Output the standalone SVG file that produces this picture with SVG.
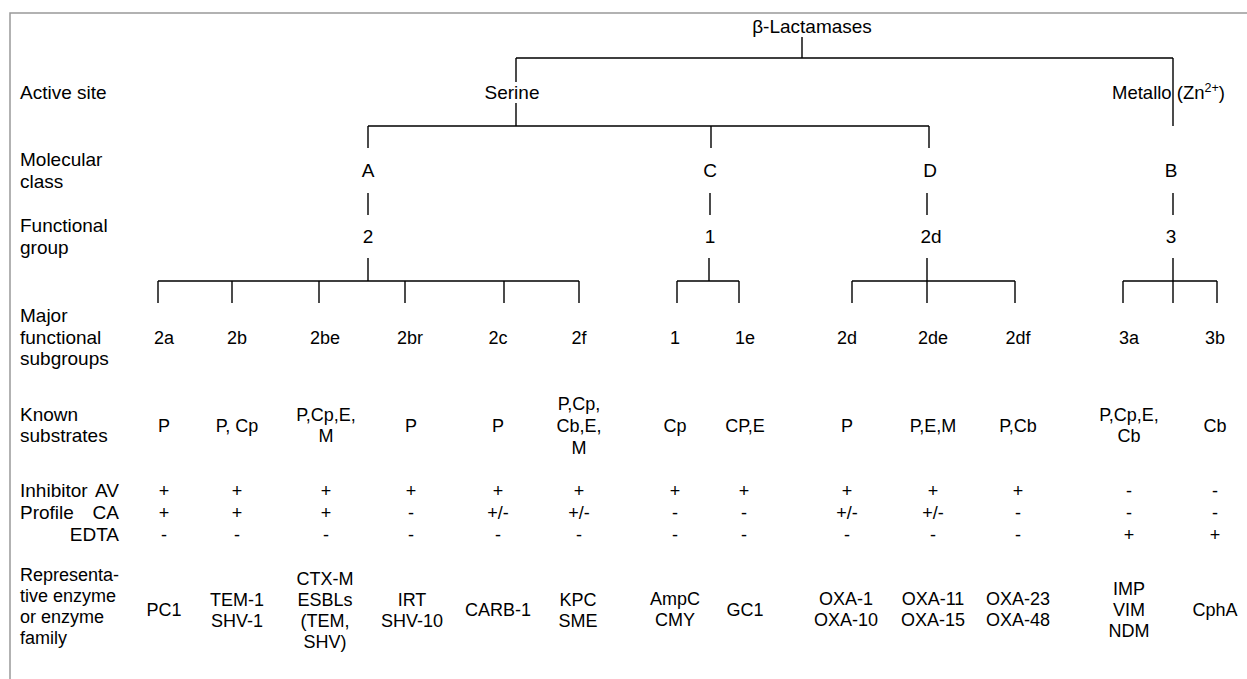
<svg xmlns="http://www.w3.org/2000/svg" width="1247" height="679" viewBox="0 0 1247 679">
<style>
text{font-family:"Liberation Sans",Arial,sans-serif;font-size:18px;fill:#000}
.lb text,.nd{font-size:19px}
.c{text-anchor:middle}
.r{text-anchor:end}
.ln{stroke:#000;stroke-width:1.4;fill:none}
.fr{stroke:#999;stroke-width:1.5;fill:none}
</style>
<rect width="1247" height="679" fill="#fff"/>
<path class="fr" d="M10,679 V13 H1247"/>
<g id="row-labels" class="lb">
<text x="20" y="99">Active site</text>
<text x="20" y="166">Molecular</text><text x="20" y="188">class</text>
<text x="20" y="232">Functional</text><text x="20" y="254">group</text>
<text x="20" y="322">Major</text><text x="20" y="344">functional</text><text x="20" y="365">subgroups</text>
<text x="20" y="421">Known</text><text x="20" y="442">substrates</text>
<text x="20" y="497">Inhibitor</text><text x="20" y="519">Profile</text>
<text class="r" x="119" y="497">AV</text><text class="r" x="119" y="519">CA</text><text class="r" x="119" y="541">EDTA</text>
<text x="20" y="581" style="font-size:18px">Representa-</text><text x="20" y="602" style="font-size:18px">tive enzyme</text><text x="20" y="623" style="font-size:18px">or enzyme</text><text x="20" y="644" style="font-size:18px">family</text>
</g>
<g id="connectors">
<path class="ln" d="M802,37 V58 M516,58 H1173 M516,58 V82 M516,103 V126 M1173,58 V126"/>
<path class="ln" d="M368,126 H929 M368,126 V148 M711,126 V148 M929,126 V148"/>
<path class="ln" d="M368,193 V215 M710,193 V215 M927,193 V215 M1173,193 V215"/>
<path class="ln" d="M368,258 V281 M709,258 V281 M927,258 V281 M1173,258 V281"/>
<path class="ln" d="M158,281 H579 M158,281 V303 M232,281 V303 M319,281 V303 M405,281 V303 M504,281 V303 M579,281 V303"/>
<path class="ln" d="M677,281 H739 M677,281 V303 M739,281 V303"/>
<path class="ln" d="M852,281 H1015 M852,281 V303 M927,281 V303 M1015,281 V303"/>
<path class="ln" d="M1123,281 H1217 M1123,281 V303 M1173,281 V303 M1217,281 V303"/>
</g>
<g id="node-root"><text class="c nd" x="812" y="33">β-Lactamases</text></g>
<g id="node-serine"><text class="c nd" x="512" y="99">Serine</text></g>
<g id="node-metallo"><text x="1112" y="99" style="font-size:18.5px">Metallo (Zn<tspan font-size="12.5" dy="-7">2+</tspan><tspan dy="7">)</tspan></text></g>
<g id="node-A"><text class="c nd" x="368" y="177">A</text></g>
<g id="node-C"><text class="c nd" x="710" y="177">C</text></g>
<g id="node-D"><text class="c nd" x="930" y="177">D</text></g>
<g id="node-B"><text class="c nd" x="1171" y="177">B</text></g>
<g id="node-g2"><text class="c nd" x="368" y="243">2</text></g>
<g id="node-g1"><text class="c nd" x="710" y="243">1</text></g>
<g id="node-g2d"><text class="c nd" x="931" y="243">2d</text></g>
<g id="node-g3"><text class="c nd" x="1171" y="243">3</text></g>
<g id="col-2a">
<text class="c" x="164" y="344">2a</text><text class="c" x="164" y="432">P</text>
<text class="c" x="164" y="497">+</text><text class="c" x="164" y="519">+</text><text class="c" x="164" y="541">-</text>
<text class="c" x="164" y="616">PC1</text>
</g>
<g id="col-2b">
<text class="c" x="237" y="344">2b</text><text class="c" x="237" y="432">P, Cp</text>
<text class="c" x="237" y="497">+</text><text class="c" x="237" y="519">+</text><text class="c" x="237" y="541">-</text>
<text class="c" x="237" y="606">TEM-1</text><text class="c" x="237" y="627">SHV-1</text>
</g>
<g id="col-2be">
<text class="c" x="325" y="344">2be</text><text class="c" x="326" y="421">P,Cp,E,</text><text class="c" x="326" y="442">M</text>
<text class="c" x="326" y="497">+</text><text class="c" x="326" y="519">+</text><text class="c" x="326" y="541">-</text>
<text class="c" x="325" y="585">CTX-M</text><text class="c" x="325" y="606">ESBLs</text><text class="c" x="325" y="627">(TEM,</text><text class="c" x="325" y="648">SHV)</text>
</g>
<g id="col-2br">
<text class="c" x="410" y="344">2br</text><text class="c" x="411" y="432">P</text>
<text class="c" x="411" y="497">+</text><text class="c" x="411" y="519">-</text><text class="c" x="411" y="541">-</text>
<text class="c" x="412" y="606">IRT</text><text class="c" x="412" y="627">SHV-10</text>
</g>
<g id="col-2c">
<text class="c" x="498" y="344">2c</text><text class="c" x="498" y="432">P</text>
<text class="c" x="498" y="497">+</text><text class="c" x="498" y="519">+/-</text><text class="c" x="498" y="541">-</text>
<text class="c" x="498" y="616">CARB-1</text>
</g>
<g id="col-2f">
<text class="c" x="579" y="344">2f</text><text class="c" x="579" y="410">P,Cp,</text><text class="c" x="579" y="432">Cb,E,</text><text class="c" x="579" y="454">M</text>
<text class="c" x="579" y="497">+</text><text class="c" x="579" y="519">+/-</text><text class="c" x="579" y="541">-</text>
<text class="c" x="578" y="606">KPC</text><text class="c" x="578" y="627">SME</text>
</g>
<g id="col-1">
<text class="c" x="675" y="344">1</text><text class="c" x="675" y="432">Cp</text>
<text class="c" x="675" y="497">+</text><text class="c" x="675" y="519">-</text><text class="c" x="675" y="541">-</text>
<text class="c" x="675" y="605">AmpC</text><text class="c" x="675" y="626">CMY</text>
</g>
<g id="col-1e">
<text class="c" x="745" y="344">1e</text><text class="c" x="745" y="432">CP,E</text>
<text class="c" x="744" y="497">+</text><text class="c" x="744" y="519">-</text><text class="c" x="744" y="541">-</text>
<text class="c" x="745" y="616">GC1</text>
</g>
<g id="col-2d">
<text class="c" x="847" y="344">2d</text><text class="c" x="847" y="432">P</text>
<text class="c" x="847" y="497">+</text><text class="c" x="847" y="519">+/-</text><text class="c" x="847" y="541">-</text>
<text class="c" x="846" y="605">OXA-1</text><text class="c" x="846" y="626">OXA-10</text>
</g>
<g id="col-2de">
<text class="c" x="933" y="344">2de</text><text class="c" x="933" y="432">P,E,M</text>
<text class="c" x="933" y="497">+</text><text class="c" x="933" y="519">+/-</text><text class="c" x="933" y="541">-</text>
<text class="c" x="933" y="605">OXA-11</text><text class="c" x="933" y="626">OXA-15</text>
</g>
<g id="col-2df">
<text class="c" x="1018" y="344">2df</text><text class="c" x="1018" y="432">P,Cb</text>
<text class="c" x="1018" y="497">+</text><text class="c" x="1018" y="519">-</text><text class="c" x="1018" y="541">-</text>
<text class="c" x="1018" y="605">OXA-23</text><text class="c" x="1018" y="626">OXA-48</text>
</g>
<g id="col-3a">
<text class="c" x="1129" y="344">3a</text><text class="c" x="1129" y="421">P,Cp,E,</text><text class="c" x="1129" y="442">Cb</text>
<text class="c" x="1129" y="497">-</text><text class="c" x="1129" y="519">-</text><text class="c" x="1129" y="541">+</text>
<text class="c" x="1129" y="595">IMP</text><text class="c" x="1129" y="616">VIM</text><text class="c" x="1129" y="637">NDM</text>
</g>
<g id="col-3b">
<text class="c" x="1215" y="344">3b</text><text class="c" x="1215" y="432">Cb</text>
<text class="c" x="1215" y="497">-</text><text class="c" x="1215" y="519">-</text><text class="c" x="1215" y="541">+</text>
<text class="c" x="1215" y="616">CphA</text>
</g>
</svg>
